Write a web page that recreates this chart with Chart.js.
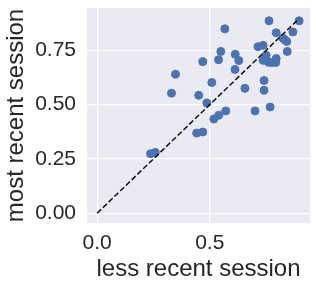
<!DOCTYPE html>
<html>
<head>
<meta charset="utf-8">
<script src="https://cdn.jsdelivr.net/npm/chart.js@4/dist/chart.umd.min.js"></script>
<style>
  html, body { margin: 0; padding: 0; background: #fff; }
</style>
</head>
<body>
<canvas id="myChart" width="316" height="288"></canvas>
<script>
// scores per participant: less recent session (x) vs most recent session (y)
var less_recent = [0.763, 0.897, 0.567, 0.795, 0.869, 0.714, 0.737, 0.825, 0.834, 0.842,
	0.844, 0.549, 0.613, 0.750, 0.469, 0.539, 0.629, 0.737, 0.761, 0.775,
	0.795, 0.793, 0.612, 0.348, 0.509, 0.741, 0.656, 0.741, 0.330, 0.451,
	0.487, 0.571, 0.701, 0.768, 0.518, 0.540, 0.442, 0.469, 0.237, 0.258];
var most_recent = [0.886, 0.886, 0.849, 0.831, 0.835, 0.767, 0.773, 0.806, 0.798, 0.791,
	0.745, 0.745, 0.732, 0.727, 0.698, 0.707, 0.703, 0.704, 0.695, 0.694,
	0.712, 0.694, 0.662, 0.640, 0.602, 0.611, 0.575, 0.566, 0.553, 0.543,
	0.508, 0.471, 0.471, 0.489, 0.434, 0.451, 0.369, 0.374, 0.274, 0.280];

var x_ticks = [0, 0.5];
var y_ticks = [0, 0.25, 0.5, 0.75];
var axis_min = -0.045;
var axis_max = 0.945;

var points = [];
for (var i = 0; i < less_recent.length; i++) {
	points.push({x: less_recent[i], y: most_recent[i]});
}

// identity line from 0 to the largest value
var line_end = Math.max(Math.max.apply(null, less_recent), Math.max.apply(null, most_recent));
var identity = [{x: 0, y: 0}, {x: line_end, y: line_end}];

var font_family = "'Liberation Sans', Arial, sans-serif";
var text_color = "#262626";

var ctx = document.getElementById('myChart').getContext('2d');
var chart = new Chart(ctx, {
    type: 'scatter',
    data: {
        datasets: [{
            type: 'line',
            data: identity,
            borderColor: "#111111",
            borderWidth: 1.5,
            borderDash: [5.5, 2.5],
            pointRadius: 0,
            fill: false,
            order: 0
        }, {
            data: points,
            backgroundColor: "#4C72B0",
            borderColor: "#4C72B0",
            pointRadius: 4,
            pointHoverRadius: 4,
            order: 1
        }]
    },
    options: {
        responsive: false,
        animation: false,
        events: [],
        layout: {padding: {left: 0, right: 6, top: 8, bottom: 0}},
        plugins: {
            legend: {display: false},
            tooltip: {enabled: false}
        },
        scales: {
            x: {
                type: 'linear',
                min: axis_min,
                max: axis_max,
                afterBuildTicks: function(scale) {
                    scale.ticks = x_ticks.map(function(v) { return {value: v}; });
                },
                afterFit: function(scale) {
                    scale.height = 65;
                    scale.paddingLeft = 0;
                    scale.paddingRight = 0;
                },
                ticks: {
                    color: text_color,
                    font: {family: font_family, size: 21},
                    padding: 8,
                    maxRotation: 0,
                    callback: function(v) { return v.toFixed(1); }
                },
                grid: {color: "#ffffff", lineWidth: 1.2, drawTicks: false},
                border: {display: false},
                title: {
                    display: true,
                    text: "less recent session",
                    color: text_color,
                    font: {family: font_family, size: 24},
                    padding: {top: 0, bottom: 4}
                }
            },
            y: {
                type: 'linear',
                min: axis_min,
                max: axis_max,
                afterBuildTicks: function(scale) {
                    scale.ticks = y_ticks.map(function(v) { return {value: v}; });
                },
                afterFit: function(scale) {
                    scale.width = 87;
                    scale.paddingTop = 0;
                    scale.paddingBottom = 0;
                },
                ticks: {
                    color: text_color,
                    font: {family: font_family, size: 21},
                    padding: 11,
                    callback: function(v) { return v.toFixed(2); }
                },
                grid: {color: "#ffffff", lineWidth: 1.2, drawTicks: false},
                border: {display: false},
                title: {
                    display: true,
                    text: "most recent session",
                    color: text_color,
                    font: {family: font_family, size: 24},
                    padding: {top: 2, bottom: 0}
                }
            }
        }
    },
    plugins: [{
        id: 'plotBackground',
        beforeDraw: function(c) {
            var a = c.chartArea;
            c.ctx.save();
            c.ctx.fillStyle = "#EAEAF2";
            c.ctx.fillRect(a.left, a.top, a.right - a.left, a.bottom - a.top);
            c.ctx.restore();
        }
    }]
});
</script>
</body>
</html>
